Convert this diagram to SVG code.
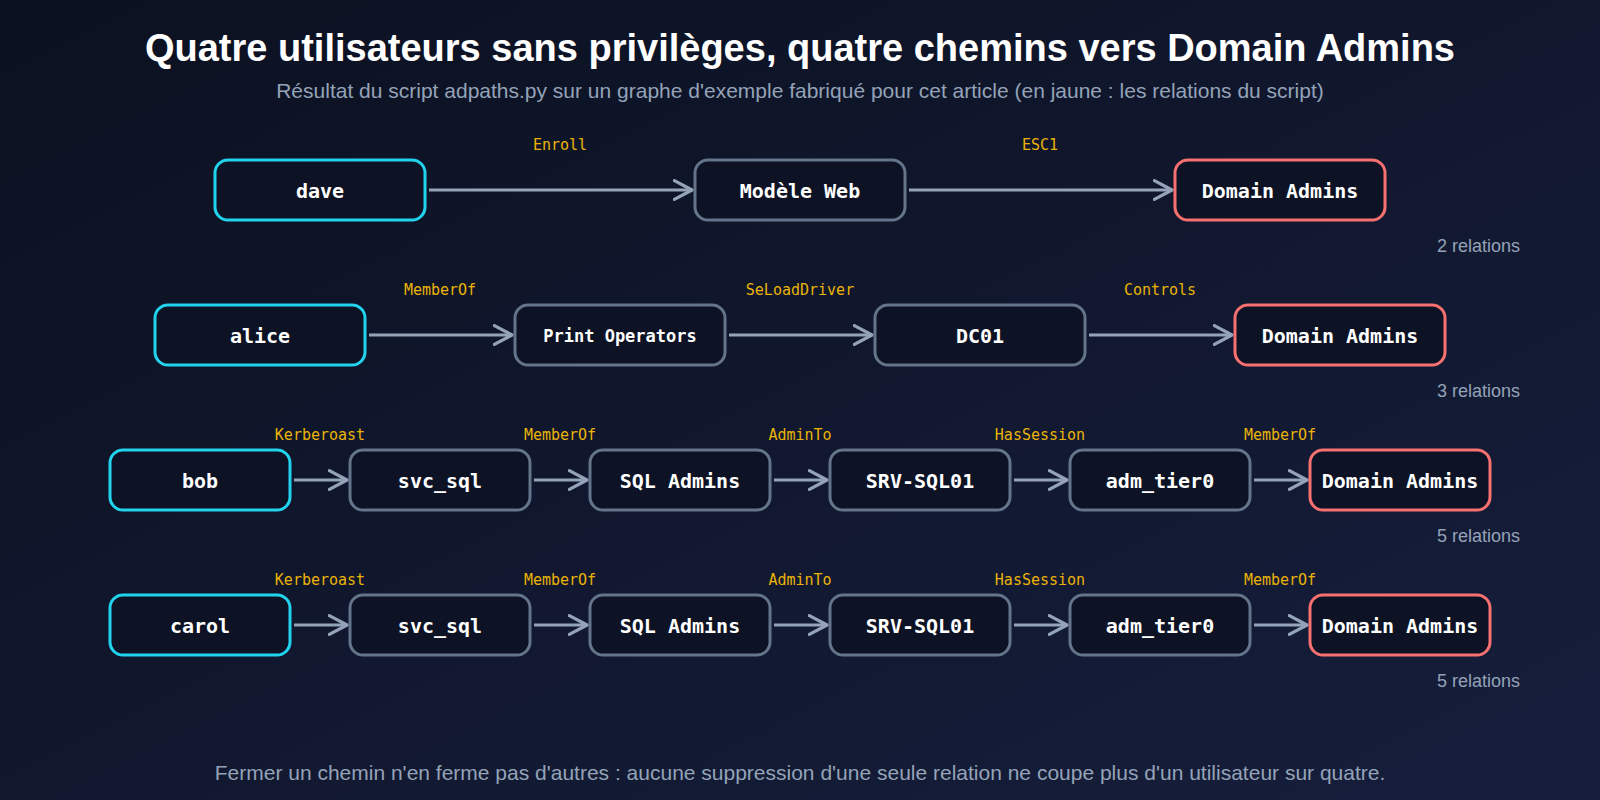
<svg xmlns="http://www.w3.org/2000/svg" width="1600" height="800" viewBox="0 0 1600 800">
<defs>
<linearGradient id="bg" x1="0" y1="0" x2="1" y2="1">
<stop offset="0" stop-color="#0b1120"/>
<stop offset="1" stop-color="#161e3c"/>
</linearGradient>
<marker id="arr" markerUnits="userSpaceOnUse" markerWidth="22" markerHeight="22" refX="17" refY="10" orient="auto" viewBox="0 0 20 20">
<path d="M1,1.5 L17,10 L1,18.5" fill="none" stroke="#94a3b8" stroke-width="3" stroke-linecap="round" stroke-linejoin="round"/>
</marker>
</defs>
<style>
.n rect{fill:#0d1324;stroke-width:3}
.u rect{stroke:#22d3ee}
.m rect{stroke:#64748b}
.t rect{stroke:#f87171}
.n text{font-family:"DejaVu Sans Mono",monospace;font-weight:bold;font-size:20px;fill:#ffffff;text-anchor:middle;dominant-baseline:central}
.e line{stroke:#94a3b8;stroke-width:3;marker-end:url(#arr)}
.lb{font-family:"DejaVu Sans Mono",monospace;font-size:15px;fill:#eab308;text-anchor:middle}
.rel{font-family:"Liberation Sans",Arial,sans-serif;font-size:18px;fill:#94a3b8;text-anchor:end}
.title{font-family:"Liberation Sans",Arial,sans-serif;font-weight:bold;font-size:38px;fill:#ffffff;text-anchor:middle}
.sub{font-family:"Liberation Sans",Arial,sans-serif;font-size:21px;fill:#94a3b8;text-anchor:middle}
</style>
<rect width="1600" height="800" fill="url(#bg)"/>
<text class="title" x="800" y="61">Quatre utilisateurs sans privilèges, quatre chemins vers Domain Admins</text>
<text class="sub" x="800" y="98">Résultat du script adpaths.py sur un graphe d'exemple fabriqué pour cet article (en jaune : les relations du script)</text>

<g id="connectors" class="e">
<line x1="429" y1="190" x2="692" y2="190"/>
<line x1="909" y1="190" x2="1172" y2="190"/>
<line x1="369" y1="335" x2="512" y2="335"/>
<line x1="729" y1="335" x2="872" y2="335"/>
<line x1="1089" y1="335" x2="1232" y2="335"/>
<line x1="294" y1="480" x2="347" y2="480"/>
<line x1="534" y1="480" x2="587" y2="480"/>
<line x1="774" y1="480" x2="827" y2="480"/>
<line x1="1014" y1="480" x2="1067" y2="480"/>
<line x1="1254" y1="480" x2="1307" y2="480"/>
<line x1="294" y1="625" x2="347" y2="625"/>
<line x1="534" y1="625" x2="587" y2="625"/>
<line x1="774" y1="625" x2="827" y2="625"/>
<line x1="1014" y1="625" x2="1067" y2="625"/>
<line x1="1254" y1="625" x2="1307" y2="625"/>
</g>

<g id="edge-labels">
<text class="lb" x="560" y="150">Enroll</text>
<text class="lb" x="1040" y="150">ESC1</text>
<text class="lb" x="440" y="295">MemberOf</text>
<text class="lb" x="800" y="295">SeLoadDriver</text>
<text class="lb" x="1160" y="295">Controls</text>
<text class="lb" x="320" y="440">Kerberoast</text>
<text class="lb" x="560" y="440">MemberOf</text>
<text class="lb" x="800" y="440">AdminTo</text>
<text class="lb" x="1040" y="440">HasSession</text>
<text class="lb" x="1280" y="440">MemberOf</text>
<text class="lb" x="320" y="585">Kerberoast</text>
<text class="lb" x="560" y="585">MemberOf</text>
<text class="lb" x="800" y="585">AdminTo</text>
<text class="lb" x="1040" y="585">HasSession</text>
<text class="lb" x="1280" y="585">MemberOf</text>
</g>

<g id="r1-dave" class="n u"><rect x="215" y="160" width="210" height="60" rx="13"/><text x="320" y="191">dave</text></g>
<g id="r1-modele" class="n m"><rect x="695" y="160" width="210" height="60" rx="13"/><text x="800" y="191">Modèle Web</text></g>
<g id="r1-da" class="n t"><rect x="1175" y="160" width="210" height="60" rx="13"/><text x="1280" y="191">Domain Admins</text></g>
<text class="rel" x="1520" y="252">2 relations</text>

<g id="r2-alice" class="n u"><rect x="155" y="305" width="210" height="60" rx="13"/><text x="260" y="336">alice</text></g>
<g id="r2-printops" class="n m"><rect x="515" y="305" width="210" height="60" rx="13"/><text x="620" y="336" style="font-size:17px">Print Operators</text></g>
<g id="r2-dc01" class="n m"><rect x="875" y="305" width="210" height="60" rx="13"/><text x="980" y="336">DC01</text></g>
<g id="r2-da" class="n t"><rect x="1235" y="305" width="210" height="60" rx="13"/><text x="1340" y="336">Domain Admins</text></g>
<text class="rel" x="1520" y="397">3 relations</text>

<g id="r3-bob" class="n u"><rect x="110" y="450" width="180" height="60" rx="13"/><text x="200" y="481">bob</text></g>
<g id="r3-svc" class="n m"><rect x="350" y="450" width="180" height="60" rx="13"/><text x="440" y="481">svc_sql</text></g>
<g id="r3-sqladm" class="n m"><rect x="590" y="450" width="180" height="60" rx="13"/><text x="680" y="481">SQL Admins</text></g>
<g id="r3-srv" class="n m"><rect x="830" y="450" width="180" height="60" rx="13"/><text x="920" y="481">SRV-SQL01</text></g>
<g id="r3-adm" class="n m"><rect x="1070" y="450" width="180" height="60" rx="13"/><text x="1160" y="481">adm_tier0</text></g>
<g id="r3-da" class="n t"><rect x="1310" y="450" width="180" height="60" rx="13"/><text x="1400" y="481">Domain Admins</text></g>
<text class="rel" x="1520" y="542">5 relations</text>

<g id="r4-carol" class="n u"><rect x="110" y="595" width="180" height="60" rx="13"/><text x="200" y="626">carol</text></g>
<g id="r4-svc" class="n m"><rect x="350" y="595" width="180" height="60" rx="13"/><text x="440" y="626">svc_sql</text></g>
<g id="r4-sqladm" class="n m"><rect x="590" y="595" width="180" height="60" rx="13"/><text x="680" y="626">SQL Admins</text></g>
<g id="r4-srv" class="n m"><rect x="830" y="595" width="180" height="60" rx="13"/><text x="920" y="626">SRV-SQL01</text></g>
<g id="r4-adm" class="n m"><rect x="1070" y="595" width="180" height="60" rx="13"/><text x="1160" y="626">adm_tier0</text></g>
<g id="r4-da" class="n t"><rect x="1310" y="595" width="180" height="60" rx="13"/><text x="1400" y="626">Domain Admins</text></g>
<text class="rel" x="1520" y="687">5 relations</text>

<text class="sub" x="800" y="780">Fermer un chemin n'en ferme pas d'autres : aucune suppression d'une seule relation ne coupe plus d'un utilisateur sur quatre.</text>
</svg>
